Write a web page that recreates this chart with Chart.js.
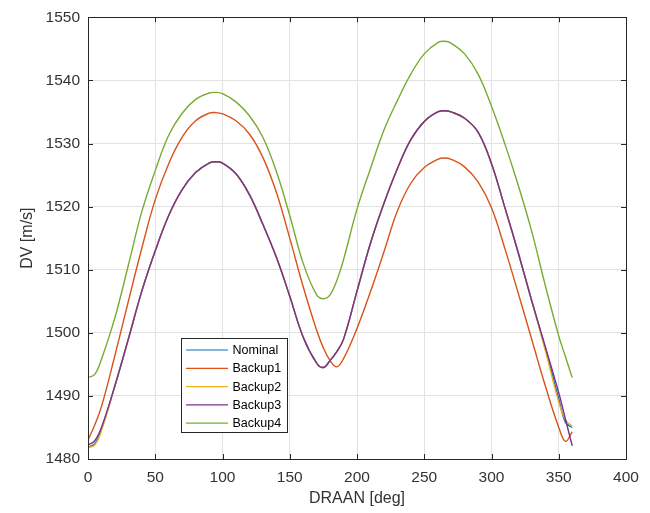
<!DOCTYPE html>
<html>
<head>
<meta charset="utf-8">
<script src="https://cdn.jsdelivr.net/npm/chart.js@4/dist/chart.umd.min.js"></script>
<style>
html,body{margin:0;padding:0;background:#fff;}
#wrap{position:relative;width:650px;height:513px;}
</style>
</head>
<body>
<div id="wrap"><canvas id="c" width="650" height="513"></canvas></div>
<script>
const DRAAN = [0,5,10,20,30,40,50,60,70,80,90,95,100,110,120,130,140,150,160,170,175,180,185,190,200,210,220,230,240,250,260,265,270,280,290,300,310,320,330,340,350,355,360];
const NOMINAL = [1481.9,1482.4,1484.7,1491.6,1499.0,1506.6,1513.0,1518.6,1522.7,1525.4,1526.9,1527.1,1526.9,1525.2,1521.9,1517.2,1512.0,1505.8,1499.3,1495.2,1494.5,1495.6,1497.0,1499.0,1506.6,1514.2,1520.5,1526.0,1530.6,1533.5,1535.0,1535.2,1535.0,1534.0,1531.8,1526.8,1519.8,1512.6,1505.0,1497.6,1489.5,1485.8,1485.0];
const BACKUP1 = [1483.0,1485.4,1488.3,1496.4,1505.0,1513.4,1521.1,1526.8,1531.0,1533.6,1534.8,1534.9,1534.7,1533.6,1531.5,1527.8,1522.3,1515.0,1507.3,1500.4,1497.6,1495.6,1494.6,1495.9,1500.7,1506.5,1512.8,1519.3,1523.7,1526.2,1527.5,1527.7,1527.5,1526.3,1523.9,1519.8,1513.3,1506.2,1498.9,1491.6,1485.0,1482.8,1484.3];
const BACKUP2 = [1481.8,1482.2,1484.5,1491.6,1499.0,1506.6,1513.0,1518.6,1522.7,1525.4,1526.9,1527.1,1526.9,1525.2,1521.9,1517.2,1512.0,1505.8,1499.3,1495.2,1494.5,1495.6,1497.0,1499.0,1506.6,1514.2,1520.5,1526.0,1530.6,1533.5,1535.0,1535.2,1535.0,1534.0,1531.8,1526.8,1519.8,1512.6,1505.0,1497.2,1489.0,1486.2,1485.2];
const BACKUP3 = [1482.2,1482.9,1485.0,1491.6,1499.0,1506.6,1513.0,1518.6,1522.7,1525.4,1526.9,1527.1,1526.9,1525.2,1521.9,1517.2,1512.0,1505.8,1499.3,1495.2,1494.5,1495.6,1497.0,1499.0,1506.6,1514.2,1520.5,1526.0,1530.6,1533.5,1535.0,1535.2,1535.0,1534.0,1531.8,1526.8,1519.8,1512.6,1505.0,1497.8,1490.5,1486.3,1482.1];
const BACKUP4 = [1492.9,1493.4,1495.8,1502.4,1510.7,1519.2,1525.7,1531.3,1534.8,1537.0,1538.0,1538.1,1537.9,1536.6,1534.4,1531.0,1525.6,1518.6,1511.0,1506.0,1505.4,1506.0,1508.3,1511.6,1519.6,1526.0,1532.1,1536.8,1541.0,1544.2,1546.0,1546.2,1545.9,1544.2,1541.0,1535.9,1529.9,1523.3,1516.0,1507.5,1499.5,1496.2,1492.9];
const SERIES_NAMES = ['Nominal','Backup1','Backup2','Backup3','Backup4'];
const SERIES_VALUES = [NOMINAL, BACKUP1, BACKUP2, BACKUP3, BACKUP4];
const COLORS = ['#0072BD','#D95319','#EDB120','#7E2F8E','#77AC30'];
const X_MIN = 0, X_MAX = 400, X_STEP = 50;
const Y_MIN = 1480, Y_MAX = 1550, Y_STEP = 10;

const FONT = '"Liberation Sans", Arial, Helvetica, sans-serif';
const AX = '#262626';
const TXT = '#333333';

const datasets = SERIES_VALUES.map((vals, i) => ({
  label: SERIES_NAMES[i],
  data: DRAAN.map((x, j) => ({x: x, y: vals[j]})),
  borderColor: COLORS[i],
  backgroundColor: COLORS[i],
  borderWidth: 1.4,
  pointRadius: 0,
  tension: 0.4,
  fill: false,
  order: SERIES_NAMES.length - i
}));

const framePlugin = {
  id: 'frame',
  afterDatasetsDraw(chart) {
    const {ctx, chartArea: a, scales} = chart;
    ctx.save();
    ctx.strokeStyle = AX;
    ctx.lineWidth = 1;
    ctx.strokeRect(Math.round(a.left) + 0.5, Math.round(a.top) + 0.5, Math.round(a.right - a.left), Math.round(a.bottom - a.top));
    const tl = 5;
    ctx.beginPath();
    scales.x.ticks.forEach(t => {
      const px = Math.round(scales.x.getPixelForValue(t.value)) + 0.5;
      ctx.moveTo(px, a.bottom); ctx.lineTo(px, a.bottom - tl);
      ctx.moveTo(px, a.top); ctx.lineTo(px, a.top + tl);
    });
    scales.y.ticks.forEach(t => {
      const py = Math.round(scales.y.getPixelForValue(t.value)) + 0.5;
      ctx.moveTo(a.left, py); ctx.lineTo(a.left + tl, py);
      ctx.moveTo(a.right, py); ctx.lineTo(a.right - tl, py);
    });
    ctx.stroke();
    ctx.restore();
  },
  afterDraw(chart) {
    const {ctx, chartArea: a} = chart;
    const bx = Math.round(a.left + 92.5) + 0.5, by = Math.round(a.top + 320.5) + 0.5;
    const bw = 106, bh = 94;
    ctx.save();
    ctx.fillStyle = '#fff';
    ctx.fillRect(bx, by, bw, bh);
    ctx.strokeStyle = AX;
    ctx.lineWidth = 1;
    ctx.strokeRect(bx, by, bw, bh);
    ctx.font = '12.5px ' + FONT;
    ctx.textBaseline = 'middle';
    ctx.textAlign = 'left';
    SERIES_NAMES.forEach((name, i) => {
      const y = by + 11.5 + i * 18.3;
      ctx.strokeStyle = COLORS[i];
      ctx.lineWidth = 1.2;
      ctx.beginPath();
      ctx.moveTo(bx + 4.5, y); ctx.lineTo(bx + 46.5, y);
      ctx.stroke();
      ctx.fillStyle = '#000';
      ctx.fillText(name, bx + 51, y + 0.5);
    });
    ctx.restore();
  }
};

new Chart(document.getElementById('c'), {
  type: 'line',
  data: {datasets},
  options: {
    responsive: false,
    animation: false,
    devicePixelRatio: 1,
    layout: {padding: {top: 12, right: 24, bottom: 0, left: 0}},
    plugins: {legend: {display: false}, tooltip: {enabled: false}, title: {display: false}},
    scales: {
      x: {
        type: 'linear', min: X_MIN, max: X_MAX,
        ticks: {stepSize: X_STEP, color: TXT, font: {family: FONT, size: 15.5}, padding: 9, maxRotation: 0,
                callback: v => String(v)},
        grid: {color: '#e2e2e2', drawTicks: false, lineWidth: 1},
        border: {display: false},
        title: {display: true, text: 'DRAAN [deg]', color: TXT, font: {family: FONT, size: 16}, padding: {top: 0, bottom: 5}},
        afterFit(s) { s.height = 54; }
      },
      y: {
        type: 'linear', min: Y_MIN, max: Y_MAX,
        ticks: {stepSize: Y_STEP, color: TXT, font: {family: FONT, size: 15.5}, padding: 8,
                callback: v => String(v)},
        grid: {color: '#e2e2e2', drawTicks: false, lineWidth: 1},
        border: {display: false},
        title: {display: true, text: 'DV [m/s]', color: TXT, font: {family: FONT, size: 16}, padding: {top: 18, bottom: 0}},
        afterFit(s) { s.width = 88; }
      }
    }
  },
  plugins: [framePlugin]
});
</script>
</body>
</html>
